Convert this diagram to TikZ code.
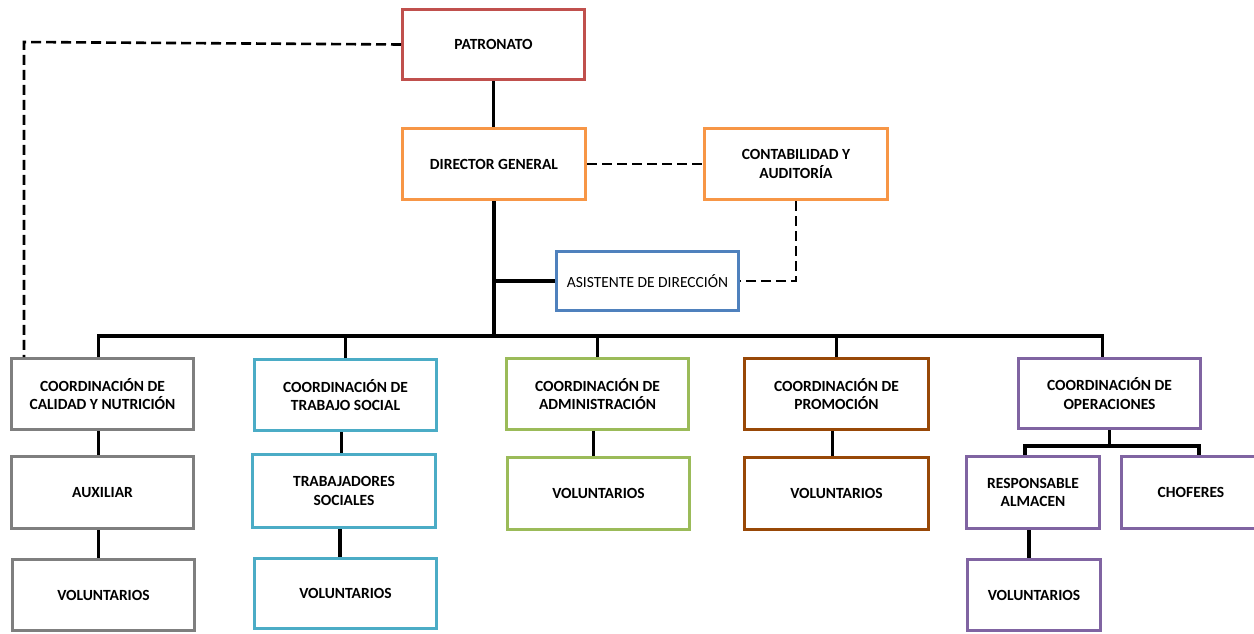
\documentclass[tikz,border=0pt]{standalone}
\usepackage{fontspec}
\setmainfont{Carlito}
\definecolor{cred}{HTML}{C0504D}
\definecolor{corange}{HTML}{F79646}
\definecolor{cblue}{HTML}{4F81BD}
\definecolor{cgray}{HTML}{7F7F7F}
\definecolor{cteal}{HTML}{4BACC6}
\definecolor{cgreen}{HTML}{9BBB59}
\definecolor{cbrown}{HTML}{984807}
\definecolor{cpurple}{HTML}{8064A2}
% box given by its outer corners: name, style, x1, y1, x2, y2, text
\newcommand{\orgbox}[7]{%
  \node[#2, minimum width={(#5-#3-2.8)*1pt}, minimum height={(#6-#4-2.8)*1pt}]
    (#1) at ({(#3+#5)/2},{(#4+#6)/2}) {#7};}
\begin{document}
\begin{tikzpicture}[x=1pt,y=-1pt,
  box/.style={draw=#1, line width=2.8pt, fill=white, rectangle, align=center,
    inner sep=2pt, font=\fontsize{15.5}{18.5}\selectfont\bfseries},
  plainbox/.style={box=#1, font=\fontsize{15.5}{18.5}\selectfont\mdseries},
  link/.style={line width=3.8pt, black},
  dashlink/.style={line width=2.6pt, black, dash pattern=on 10pt off 5pt}]
\useasboundingbox (0,0) rectangle (1254,633);

% top management
\orgbox{pat}{box=cred}{401}{8}{586}{81}{PATRONATO}
\orgbox{dg}{box=corange}{401}{127}{587}{201}{DIRECTOR GENERAL}
\orgbox{cont}{box=corange}{703}{127}{889}{201}{CONTABILIDAD Y\\AUDITORÍA}
\orgbox{asis}{plainbox=cblue}{555}{250}{740}{312}{ASISTENTE DE DIRECCIÓN}

% coordinations
\orgbox{cal}{box=cgray}{10}{357}{195}{431}{COORDINACIÓN DE\\CALIDAD Y NUTRICIÓN}
\orgbox{ts}{box=cteal}{253}{358}{438}{432}{COORDINACIÓN DE\\TRABAJO SOCIAL}
\orgbox{adm}{box=cgreen}{505}{357}{690}{431}{COORDINACIÓN DE\\ADMINISTRACIÓN}
\orgbox{pro}{box=cbrown}{743}{357}{930}{431}{COORDINACIÓN DE\\PROMOCIÓN}
\orgbox{ope}{box=cpurple}{1017}{357}{1202}{430}{COORDINACIÓN DE\\OPERACIONES}

% second level
\orgbox{aux}{box=cgray}{10}{455}{195}{530}{AUXILIAR}
\orgbox{tsoc}{box=cteal}{251}{453}{437}{529}{TRABAJADORES\\SOCIALES}
\orgbox{vadm}{box=cgreen}{506}{456}{691}{531}{VOLUNTARIOS}
\orgbox{vpro}{box=cbrown}{743}{456}{930}{531}{VOLUNTARIOS}
\orgbox{resp}{box=cpurple}{965}{455}{1101}{530}{RESPONSABLE\\ALMACEN}
\orgbox{chof}{box=cpurple}{1120}{455}{1262}{530}{CHOFERES}

% third level
\orgbox{vcal}{box=cgray}{11}{558}{196}{632}{VOLUNTARIOS}
\orgbox{vts}{box=cteal}{253}{557}{438}{630}{VOLUNTARIOS}
\orgbox{vope}{box=cpurple}{966}{558}{1102}{632}{VOLUNTARIOS}

% solid reporting lines
\coordinate (bus) at (0,336);
\coordinate (opbus) at (0,446);
\draw[link] (pat.south) -- (pat.south |- dg.north);
\draw[link] (dg.south) -- (dg.south |- bus);
\draw[link] (asis.west) -- (asis.west -| dg.south);
\draw[link] ([xshift=-4pt]cal.north) -- ([xshift=-4pt]cal.north |- bus)
  -- ([xshift=-7pt]ope.north |- bus) -- ([xshift=-7pt]ope.north);
\foreach \n in {ts,adm,pro}
  \draw[link] (\n.north) -- (\n.north |- bus);
\foreach \a/\b in {cal/aux,aux/vcal,ts/tsoc,tsoc/vts,adm/vadm,pro/vpro,resp/vope}
  \draw[link] ([xshift=-4pt]\a.south) -- ([xshift=-4pt]\a.south |- \b.north);
\draw[link] (ope.south) -- (ope.south |- opbus);
\draw[link] ([xshift=-8pt]resp.north) -- ([xshift=-8pt]resp.north |- opbus)
  -- ([xshift=8pt]chof.north |- opbus) -- ([xshift=8pt]chof.north);

% advisory (dashed) lines
\coordinate (patcorner) at (24,42);
\draw[dashlink] (pat.west) -- (patcorner) -- (patcorner |- cal.north);
\draw[dashlink] (dg.east) -- (cont.west);
\draw[dashlink] (cont.south) |- (asis.east);
\end{tikzpicture}
\end{document}
